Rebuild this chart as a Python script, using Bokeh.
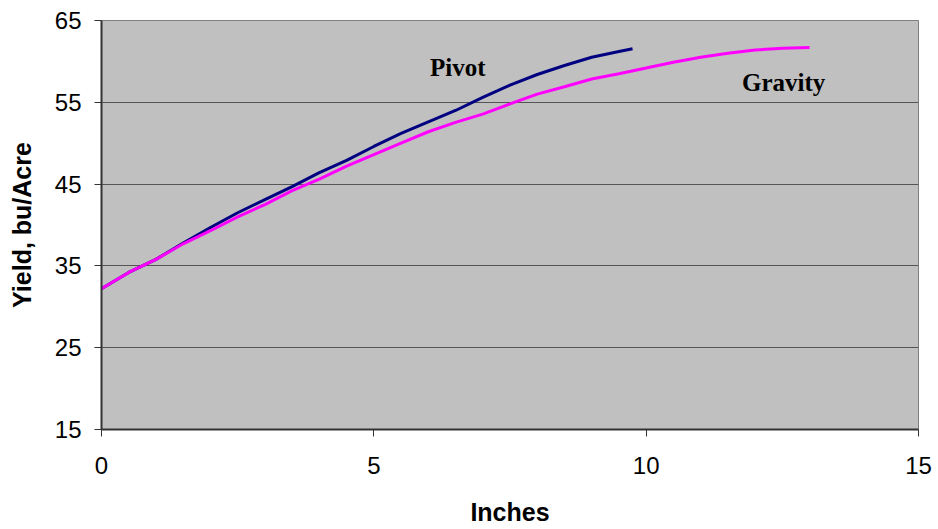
from bokeh.plotting import figure
from bokeh.models import Range1d, FixedTicker, Label
from bokeh.embed import file_html
from bokeh.resources import INLINE

# Data
pivot_x = [0, 0.5, 1, 1.5, 2, 2.5, 3, 3.5, 4, 4.5, 5, 5.5, 6, 6.5, 7, 7.5, 8, 8.5, 9, 9.5, 9.75]
pivot_y = [32.2, 34.2, 35.8, 37.8, 39.7, 41.5, 43.1, 44.7, 46.4, 47.9, 49.6, 51.2, 52.6,
           54.0, 55.6, 57.1, 58.4, 59.5, 60.5, 61.2, 61.55]

gravity_x = [0, 0.5, 1, 1.5, 2, 2.5, 3, 3.5, 4, 4.5, 5, 5.5, 6, 6.5, 7, 7.5, 8, 8.5, 9,
             9.5, 10, 10.5, 11, 11.5, 12, 12.5, 13]
gravity_y = [32.2, 34.2, 35.8, 37.7, 39.3, 41.0, 42.5, 44.2, 45.6, 47.2, 48.6, 50.0, 51.4,
             52.55, 53.55, 54.8, 56.0, 56.9, 57.85, 58.5, 59.2, 59.9, 60.5, 61.0, 61.4, 61.6, 61.7]

x_ticks = [0, 5, 10, 15]
y_ticks = [15, 25, 35, 45, 55, 65]
x_title = "Inches"
y_title = "Yield, bu/Acre"

p = figure(width=938, height=529, output_backend="svg", toolbar_location=None,
           x_range=Range1d(0, 15), y_range=Range1d(15, 65),
           min_border_left=101, min_border_right=20, min_border_top=20, min_border_bottom=100)

p.background_fill_color = "#C0C0C0"
p.border_fill_color = "white"
p.outline_line_color = "#808080"
p.outline_line_width = 1

p.line(pivot_x, pivot_y, line_color="#000080", line_width=3)
p.line(gravity_x, gravity_y, line_color="#FF00FF", line_width=3)

# grids
p.xgrid.grid_line_color = None
p.ygrid.grid_line_color = "#555555"
p.ygrid.grid_line_width = 1

for ax in (p.xaxis[0], p.yaxis[0]):
    ax.axis_line_color = "#333333"
    ax.axis_line_width = 2
    ax.major_tick_line_color = "#333333"
    ax.major_tick_line_width = 1
    ax.major_tick_in = 0
    ax.major_tick_out = 7
    ax.minor_tick_line_color = None
    ax.major_label_text_font = "Liberation Sans"
    ax.major_label_text_font_size = "24px"
    ax.major_label_text_color = "black"
    ax.axis_label_text_font = "Liberation Sans"
    ax.axis_label_text_font_size = "25px"
    ax.axis_label_text_font_style = "bold"
    ax.axis_label_text_color = "black"

p.xaxis.ticker = FixedTicker(ticks=x_ticks)
p.yaxis.ticker = FixedTicker(ticks=y_ticks)
p.xaxis.axis_label = x_title
p.yaxis.axis_label = y_title
p.xaxis.major_label_standoff = 20
p.yaxis.major_label_standoff = 13
p.xaxis.axis_label_standoff = 21
p.yaxis.axis_label_standoff = 16

p.add_layout(Label(x=6.03, y=59.3, text="Pivot", text_font="Liberation Serif",
                   text_font_style="bold", text_font_size="25px", text_color="black",
                   text_baseline="alphabetic", text_align="left"))
p.add_layout(Label(x=11.76, y=57.48, text="Gravity", text_font="Liberation Serif",
                   text_font_style="bold", text_font_size="25px", text_color="black",
                   text_baseline="alphabetic", text_align="left"))

open("out.html", "w").write(file_html(p, INLINE))
